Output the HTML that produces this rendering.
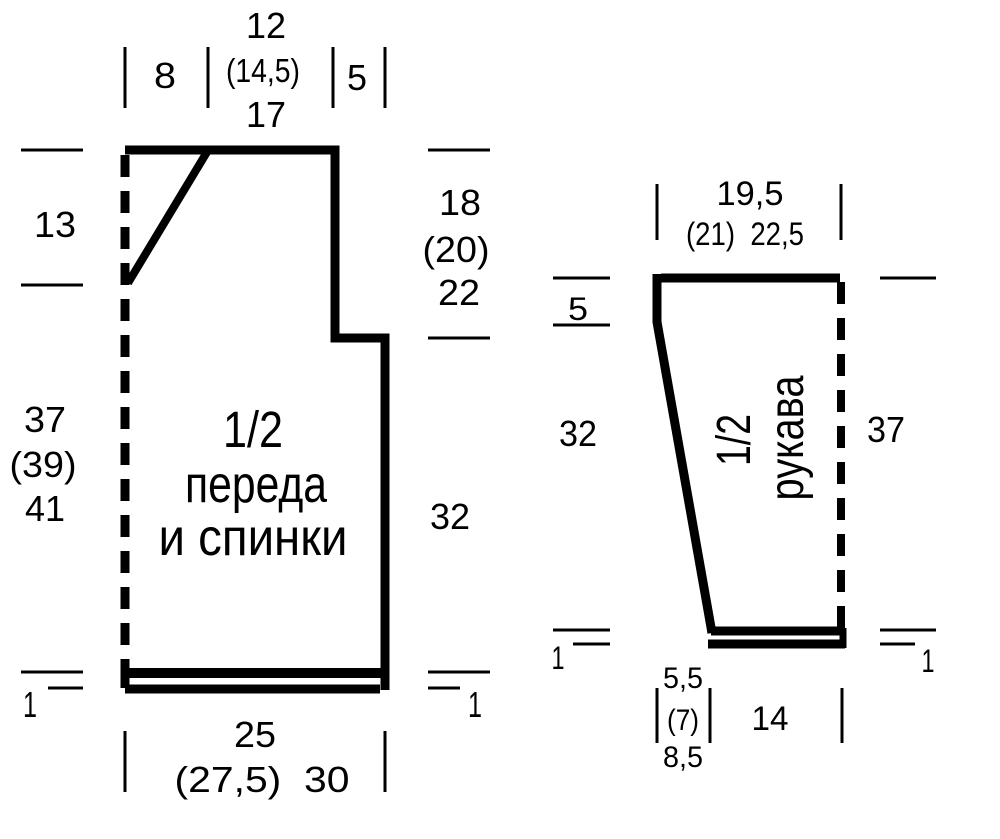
<!DOCTYPE html>
<html><head><meta charset="utf-8"><style>
html,body{margin:0;padding:0;background:#fff;}
svg{display:block}
text{font-family:"Liberation Sans",sans-serif;fill:#000;text-anchor:middle;}
</style></head><body>
<svg width="1000" height="839" viewBox="0 0 1000 839" xmlns="http://www.w3.org/2000/svg">
<g stroke="#000" stroke-width="3" fill="none">
<line x1="125" y1="47" x2="125" y2="108"/>
<line x1="208" y1="47" x2="208" y2="108"/>
<line x1="333" y1="47" x2="333" y2="108"/>
<line x1="385" y1="47" x2="385" y2="108"/>
<line x1="21" y1="150" x2="83" y2="150"/>
<line x1="21" y1="285" x2="83" y2="285"/>
<line x1="428" y1="150" x2="490" y2="150"/>
<line x1="428" y1="338" x2="490" y2="338"/>
<line x1="21" y1="672" x2="83" y2="672"/>
<line x1="48" y1="688" x2="83" y2="688"/>
<line x1="428" y1="672" x2="490" y2="672"/>
<line x1="428" y1="688" x2="460" y2="688"/>
<line x1="125" y1="731" x2="125" y2="792"/>
<line x1="385" y1="731" x2="385" y2="792"/>
<line x1="657" y1="184" x2="657" y2="240"/>
<line x1="841" y1="184" x2="841" y2="240"/>
<line x1="553" y1="278" x2="610" y2="278"/>
<line x1="553" y1="325" x2="610" y2="325"/>
<line x1="880" y1="278" x2="936" y2="278"/>
<line x1="553" y1="630" x2="610" y2="630"/>
<line x1="573" y1="644" x2="610" y2="644"/>
<line x1="880" y1="630" x2="936" y2="630"/>
<line x1="880" y1="644" x2="915" y2="644"/>
<line x1="657" y1="688" x2="657" y2="743"/>
<line x1="710" y1="688" x2="710" y2="743"/>
<line x1="842" y1="688" x2="842" y2="743"/>
</g>
<g stroke="#000" fill="none" stroke-width="9">
<line x1="125" y1="155" x2="125" y2="690" stroke-dasharray="22,14"/>
<polyline points="125,150 335,150 335,338 385,338 385,690" stroke-linejoin="miter"/>
<line x1="207" y1="152" x2="128" y2="283" stroke-width="8"/>
<line x1="125" y1="673" x2="385" y2="673" stroke-width="10"/>
<line x1="125" y1="689" x2="380" y2="689" stroke-width="9"/>
<line x1="125" y1="668" x2="125" y2="688" stroke-width="9"/>
<polyline points="661,278 840,278"/>
<polyline points="657,274 657,322 712,633" stroke-linejoin="miter"/>
<line x1="841" y1="282" x2="841" y2="628" stroke-dasharray="22,14" stroke-width="8"/>
<line x1="711" y1="631" x2="841" y2="631" stroke-width="9"/>
<line x1="708" y1="644" x2="845" y2="644" stroke-width="9"/>
<line x1="843" y1="628" x2="843" y2="648" stroke-width="7"/>
</g>
<g font-size="36">
<text x="165" y="88" textLength="22" lengthAdjust="spacingAndGlyphs">8</text>
<text x="357" y="90" textLength="20" lengthAdjust="spacingAndGlyphs">5</text>
<text x="266" y="38" textLength="40" lengthAdjust="spacingAndGlyphs">12</text>
<text x="263" y="82" font-size="33" textLength="74" lengthAdjust="spacingAndGlyphs">(14,5)</text>
<text x="266" y="127" textLength="40" lengthAdjust="spacingAndGlyphs">17</text>
<text x="55" y="237" textLength="42" lengthAdjust="spacingAndGlyphs">13</text>
<text x="460" y="215" textLength="42" lengthAdjust="spacingAndGlyphs">18</text>
<text x="456" y="262" textLength="67" lengthAdjust="spacingAndGlyphs">(20)</text>
<text x="459" y="305" textLength="42" lengthAdjust="spacingAndGlyphs">22</text>
<text x="45" y="432" textLength="42" lengthAdjust="spacingAndGlyphs">37</text>
<text x="43" y="477" textLength="67" lengthAdjust="spacingAndGlyphs">(39)</text>
<text x="45" y="521" textLength="40" lengthAdjust="spacingAndGlyphs">41</text>
<text x="450" y="529" textLength="40" lengthAdjust="spacingAndGlyphs">32</text>
<text x="255" y="747" textLength="42" lengthAdjust="spacingAndGlyphs">25</text>
<text x="262" y="792" textLength="175" lengthAdjust="spacingAndGlyphs">(27,5)&#160;&#160;30</text>
<text x="30" y="717" textLength="14" lengthAdjust="spacingAndGlyphs">1</text>
<text x="475" y="717" textLength="14" lengthAdjust="spacingAndGlyphs">1</text>
<text x="253" y="447" font-size="51" textLength="60" lengthAdjust="spacingAndGlyphs">1/2</text>
<text x="256" y="502" font-size="52" textLength="142" lengthAdjust="spacingAndGlyphs">переда</text>
<text x="253" y="555" font-size="52" textLength="189" lengthAdjust="spacingAndGlyphs">и спинки</text>
<text x="750" y="205" font-size="34" textLength="67" lengthAdjust="spacingAndGlyphs">19,5</text>
<text x="745" y="245" font-size="32" textLength="118" lengthAdjust="spacingAndGlyphs">(21)&#160;&#160;22,5</text>
<text x="578" y="320" font-size="32" textLength="20" lengthAdjust="spacingAndGlyphs">5</text>
<text x="578" y="446" textLength="38" lengthAdjust="spacingAndGlyphs">32</text>
<text x="886" y="442" textLength="38" lengthAdjust="spacingAndGlyphs">37</text>
<text x="558" y="669" font-size="32" textLength="13" lengthAdjust="spacingAndGlyphs">1</text>
<text x="928" y="672" font-size="32" textLength="13" lengthAdjust="spacingAndGlyphs">1</text>
<text x="683" y="688" font-size="30" textLength="40" lengthAdjust="spacingAndGlyphs">5,5</text>
<text x="683" y="730" font-size="30" textLength="32" lengthAdjust="spacingAndGlyphs">(7)</text>
<text x="683" y="767" font-size="30" textLength="40" lengthAdjust="spacingAndGlyphs">8,5</text>
<text x="770" y="730" font-size="34" textLength="37" lengthAdjust="spacingAndGlyphs">14</text>
<g transform="translate(750,440) rotate(-90)"><text x="0" y="0" font-size="48" textLength="52" lengthAdjust="spacingAndGlyphs">1/2</text></g>
<g transform="translate(803,438) rotate(-90)"><text x="0" y="0" font-size="48" textLength="125" lengthAdjust="spacingAndGlyphs">рукава</text></g>
</g>
</svg>
</body></html>
